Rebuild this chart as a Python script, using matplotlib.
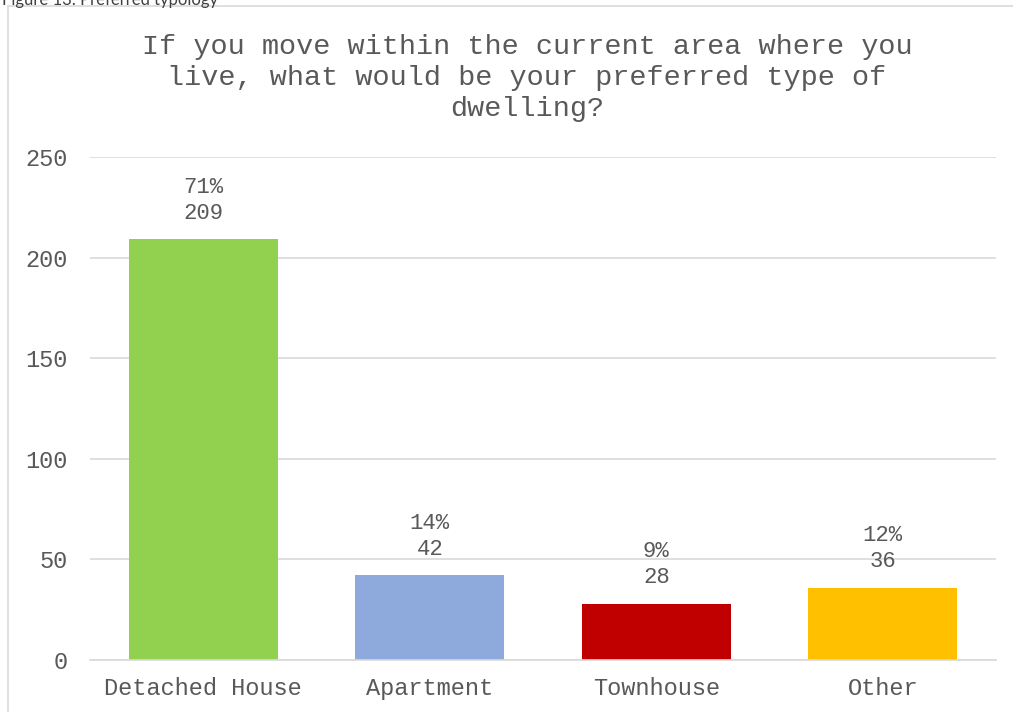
import matplotlib.pyplot as plt
from matplotlib.patches import Rectangle

categories = ["Detached House", "Apartment", "Townhouse", "Other"]
counts = [209, 42, 28, 36]
shares = ["71%", "14%", "9%", "12%"]
colors = ["#92D050", "#8EA9DB", "#C00000", "#FFC000"]
yticks = [0, 50, 100, 150, 200, 250]

title = ("If you move within the current area where you\n"
         "live, what would be your preferred type of\n"
         "dwelling?")

W, H = 1013, 712
fig = plt.figure(figsize=(W / 100, H / 100), dpi=100)
mono = ["Liberation Mono", "DejaVu Sans Mono"]
grey = "#595959"

# chart frame, open to the right and bottom
fig.patches.append(Rectangle((8 / W, -0.1), 1.2, 1.1 - 6 / H, transform=fig.transFigure,
                             fill=False, edgecolor="#D9D9D9", linewidth=1.2))
# caption sitting above the frame
fig.text(2 / W, 1.0, "Figure 13: Preferred typology", ha="left", va="center",
         fontsize=12, color="#404040", family=["Lato", "DejaVu Sans"])

ax = fig.add_axes([90 / W, 1 - 660 / H, 906 / W, (660 - 157) / H])
x = range(len(categories))
bars = ax.bar(x, counts, width=0.66, color=colors, zorder=2)

ax.set_xlim(-0.5, len(categories) - 0.5)
ax.set_ylim(0, 250)
ax.set_yticks(yticks)
ax.set_xticks(list(x))
ax.set_xticklabels(categories)
ax.yaxis.grid(True, color="#D9D9D9", linewidth=1.2, zorder=0)
ax.set_axisbelow(True)
for s in ["top", "right", "left"]:
    ax.spines[s].set_visible(False)
ax.spines["bottom"].set_color("#D9D9D9")
ax.spines["bottom"].set_linewidth(1.2)
ax.tick_params(length=0, labelsize=17, labelcolor=grey)
ax.tick_params(axis="y", pad=16)
ax.tick_params(axis="x", pad=12)
for lbl in ax.get_xticklabels() + ax.get_yticklabels():
    lbl.set_family(mono)

for b, c, p in zip(bars, counts, shares):
    ax.annotate(f"{p}\n{c}", (b.get_x() + b.get_width() / 2, c), xytext=(0, 11),
                textcoords="offset points", ha="center", va="bottom",
                fontsize=16, color=grey, family=mono, linespacing=1.35)

fig.text(527 / W, 1 - 34 / H, title, ha="center", va="top", fontsize=20.5,
         color=grey, family=mono, linespacing=1.26)

fig.savefig("out.png", dpi=100)
